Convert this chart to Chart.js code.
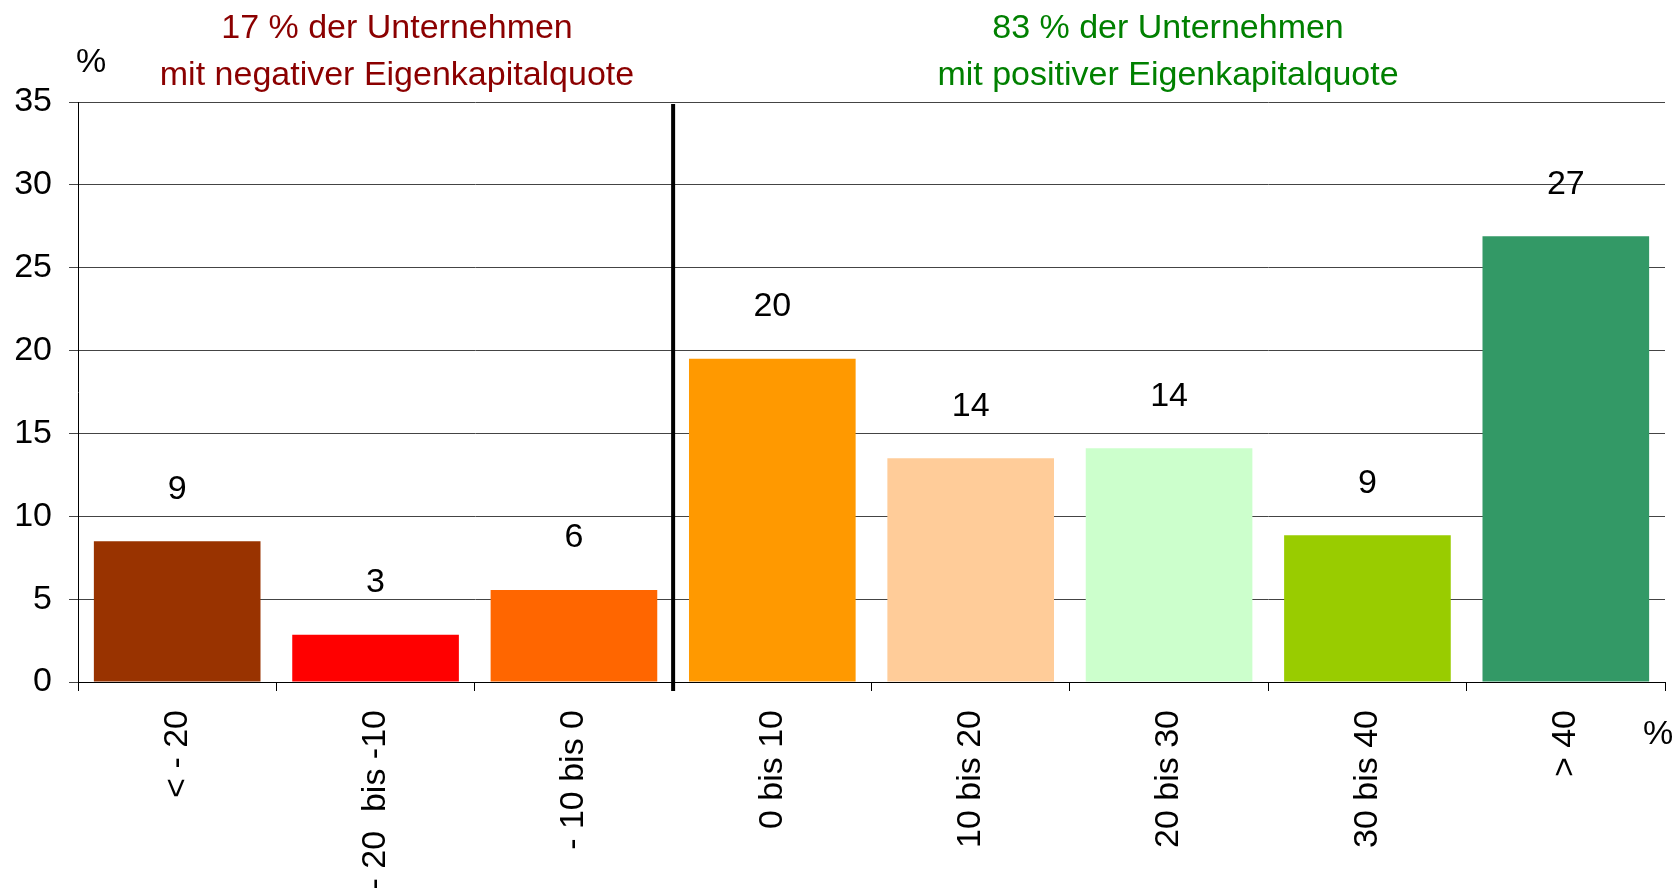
<!DOCTYPE html>
<html>
<head>
<meta charset="utf-8">
<script src="https://cdn.jsdelivr.net/npm/chart.js@4.4.0/dist/chart.umd.min.js"></script>
<style>
  html, body { margin: 0; padding: 0; background: #fff; }
  canvas { display: block; }
</style>
</head>
<body>
<canvas id="eq-chart" width="1677" height="894"></canvas>
<script>
// data
let categories = ['< - 20', '- 20  bis -10', '- 10 bis 0', '0 bis 10', '10 bis 20', '20 bis 30', '30 bis 40', '> 40']
let shares = [8.5, 2.85, 5.55, 19.5, 13.5, 14.1, 8.85, 26.9]
let shownValues = ['9', '3', '6', '20', '14', '14', '9', '27']
let barColors = ['#993300', '#ff0000', '#ff6600', '#ff9900', '#ffcc99', '#ccffcc', '#99cc00', '#339966']
let yTicks = [0, 5, 10, 15, 20, 25, 30, 35]
let leftTitle = ['17 % der Unternehmen', 'mit negativer Eigenkapitalquote']
let rightTitle = ['83 % der Unternehmen', 'mit positiver Eigenkapitalquote']

let fontFamily = "'Liberation Sans', Arial, sans-serif"

// divider, value labels and headings
let extras = {
    id: 'extras',
    afterDatasetsDraw(chart) {
        let ctx = chart.ctx
        let area = chart.chartArea
        let x = chart.scales.x

        // value labels above bars
        ctx.save()
        ctx.font = '34px ' + fontFamily
        ctx.fillStyle = '#000'
        ctx.textAlign = 'center'
        ctx.textBaseline = 'middle'
        chart.getDatasetMeta(0).data.forEach(function(bar, i) {
            ctx.fillText(shownValues[i], bar.x, bar.y - 52)
        })
        ctx.restore()

        // thick separator between negative and positive groups
        let sepX = (x.getPixelForValue(2) + x.getPixelForValue(3)) / 2
        ctx.save()
        ctx.strokeStyle = '#000'
        ctx.lineWidth = 4
        ctx.beginPath()
        ctx.moveTo(sepX, area.top + 2)
        ctx.lineTo(sepX, area.bottom + 9)
        ctx.stroke()
        ctx.restore()

        // headings
        ctx.save()
        ctx.font = '34px ' + fontFamily
        ctx.textAlign = 'center'
        ctx.textBaseline = 'alphabetic'
        ctx.fillStyle = '#8b0000'
        ctx.fillText(leftTitle[0], 397, 38)
        ctx.fillText(leftTitle[1], 397, 85)
        ctx.fillStyle = '#008000'
        ctx.fillText(rightTitle[0], 1168, 38)
        ctx.fillText(rightTitle[1], 1168, 85)

        // unit marks
        ctx.fillStyle = '#000'
        ctx.textBaseline = 'middle'
        ctx.fillText('%', 91, 63)
        ctx.fillText('%', 1658, 735)
        ctx.restore()
    }
}

let chart = new Chart(document.querySelector('#eq-chart'), {
    type: 'bar',
    data: {
        labels: categories,
        datasets: [{
            data: shares,
            backgroundColor: barColors,
            borderWidth: 0,
            barPercentage: 1,
            categoryPercentage: 0.84
        }]
    },
    options: {
        responsive: false,
        animation: false,
        layout: { padding: { top: 102, right: 12, left: 0, bottom: 0 } },
        plugins: {
            legend: { display: false },
            tooltip: { enabled: false }
        },
        scales: {
            x: {
                grid: {
                    offset: true,
                    drawOnChartArea: false,
                    drawTicks: true,
                    tickLength: 9,
                    color: '#000'
                },
                border: { color: '#000', width: 1 },
                ticks: {
                    autoSkip: false,
                    maxRotation: 90,
                    minRotation: 90,
                    padding: 19,
                    color: '#000',
                    font: { family: fontFamily, size: 34 }
                },
                afterFit(scale) { scale.height = 212 }
            },
            y: {
                min: 0,
                max: 35,
                afterBuildTicks(scale) { scale.ticks = yTicks.map(v => ({ value: v })) },
                grid: {
                    color: '#444',
                    lineWidth: 1,
                    tickLength: 9
                },
                border: { color: '#000', width: 1 },
                ticks: {
                    padding: 17,
                    color: '#000',
                    font: { family: fontFamily, size: 34 }
                },
                afterFit(scale) { scale.width = 78 }
            }
        }
    },
    plugins: [extras]
})
</script>
</body>
</html>
